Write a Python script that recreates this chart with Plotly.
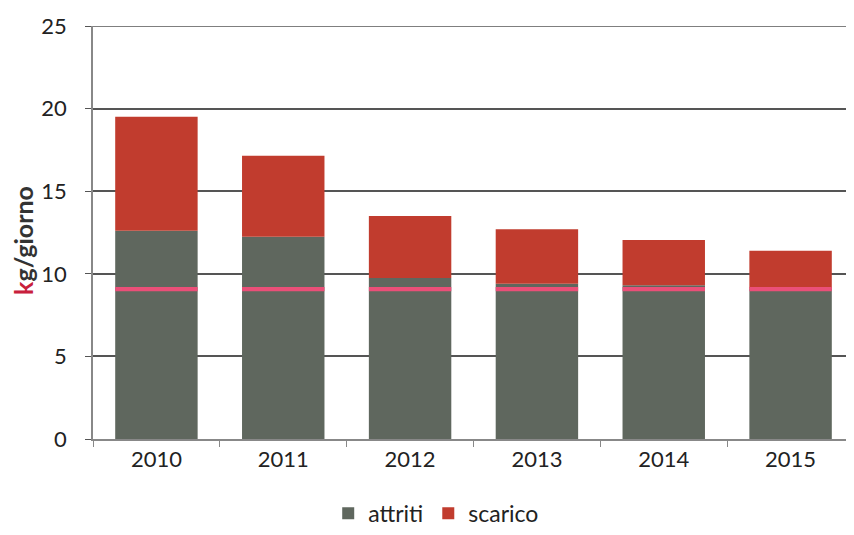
import plotly.graph_objects as go

years = ["2010", "2011", "2012", "2013", "2014", "2015"]
attriti = [12.6, 12.25, 9.75, 9.4, 9.3, 9.1]
scarico = [6.9, 4.9, 3.75, 3.3, 2.75, 2.3]
mark_base = [8.95, 8.95, 8.95, 8.95, 8.95, 8.95]
mark_height = [0.25, 0.25, 0.25, 0.25, 0.25, 0.25]
y_ticks = [0, 5, 10, 15, 20, 25]
y_max = 25

GREY = "#5f675e"
RED = "#c13c2e"
PINK = "#ea4f78"
FONT = "Lato, 'Open Sans', sans-serif"

fig = go.Figure()
fig.add_trace(go.Bar(x=years, y=attriti, name="attriti", marker=dict(color=GREY, line_width=0)))
fig.add_trace(go.Bar(x=years, y=scarico, base=attriti, name="scarico",
                     marker=dict(color=RED, line_width=0)))
fig.add_trace(go.Bar(x=years, y=mark_height, base=mark_base, showlegend=False,
                     marker=dict(color=PINK, line_width=0), hoverinfo="skip"))

fig.update_layout(
    width=846, height=527,
    margin=dict(l=85, r=0, t=18, b=96, autoexpand=False),
    barmode="overlay",
    bargap=0.35,
    plot_bgcolor="white", paper_bgcolor="white",
    font=dict(family=FONT, size=22, color="#222"),
    showlegend=True,
    legend=dict(orientation="h", x=0.451, xanchor="center", y=-0.232, yanchor="bottom",
                font=dict(size=23, color="#222"), traceorder="normal",
                itemwidth=30, tracegroupgap=0, bgcolor="rgba(0,0,0,0)"),
    xaxis=dict(type="category", range=[-0.5, 5.5], showgrid=False,
               showline=True, linecolor="#888", linewidth=1.5,
               ticks="outside", ticklen=6, tickcolor="#888", tickson="boundaries",
               tickfont=dict(size=22, color="#222")),
    yaxis=dict(range=[0, y_max], tickvals=y_ticks, showgrid=True,
               gridcolor="#555", gridwidth=1.5,
               showline=True, linecolor="#888", linewidth=1.5,
               ticks="outside", ticklen=6, tickcolor="#555", ticklabelstandoff=14,
               tickfont=dict(size=22, color="#222"), zeroline=False),
)

# top gridline (plotly drops the gridline lying on the range edge)
fig.add_shape(type="line", xref="paper", yref="y", x0=0, x1=1, y0=y_max, y1=y_max,
              line=dict(color="#555", width=1.5), layer="below")

fig.add_annotation(
    text="<b><span style='color:#c8203c'>k</span>g/giorno</b>",
    xref="paper", yref="paper", x=-0.092, y=0.482, textangle=-90,
    showarrow=False, font=dict(size=25, color="#333", family=FONT),
    xanchor="center", yanchor="middle",
)

fig.write_html("out.html")
